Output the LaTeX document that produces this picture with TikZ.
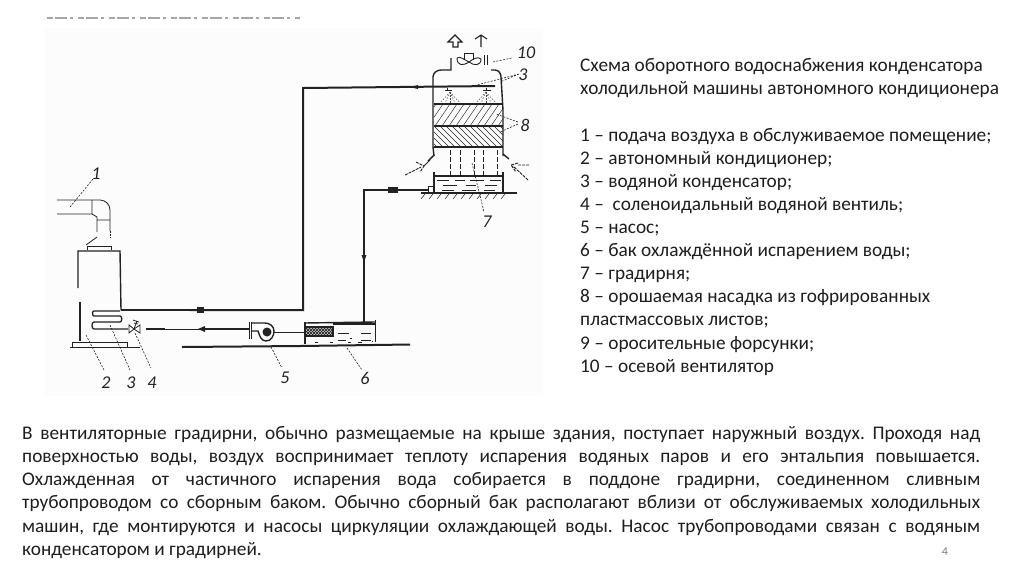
\documentclass[tikz,border=0pt]{standalone}
\usepackage{fontspec}
\setmainfont{Carlito}
\usetikzlibrary{arrows.meta}
\definecolor{ink}{HTML}{222222}
\definecolor{txt}{HTML}{1E1E1E}
\definecolor{paper}{HTML}{FCFCFC}
\newcommand{\jl}[1]{\makebox[958pt][s]{#1}}
\frenchspacing
\tikzset{
  thin line/.style={draw=ink,line width=0.8pt},
  pipe/.style={draw=ink,line width=1.3pt},
  heavy/.style={draw=ink,line width=2pt},
  leader/.style={draw=ink,line width=0.6pt,dashed,dash pattern=on 2pt off 1.4pt},
  wall/.style={draw=ink,line width=1.4pt},
  num/.style={font=\fontsize{18}{18}\selectfont\itshape,text=ink,inner sep=0pt},
  body/.style={font=\fontsize{19.3}{23.1}\selectfont,text=txt,inner sep=0pt,align=left,anchor=north west},
}
\begin{document}
\begin{tikzpicture}[x=1pt,y=-1pt]
\useasboundingbox (0,0) rectangle (1024,574);
\fill[white] (0,0) rectangle (1024,574);
\fill[paper] (45,28) rectangle (543,396);
\draw[gray!70,line width=2pt,dash pattern=on 6pt off 2pt on 12pt off 3pt on 3pt off 5pt] (47,18) -- (300,18);

% --- cooling tower ---
\begin{scope}
\clip (434,104) rectangle (503,126);
\foreach \i in {0,7,...,112} \draw[ink,line width=0.45pt] (400+\i,126) -- (415+\i,104);
\end{scope}
\begin{scope}
\clip (434,126) rectangle (503,147);
\foreach \i in {0,6,...,108} \draw[ink,line width=0.55pt] (410+\i,126) -- (431+\i,147);
\end{scope}
\draw[wall] (451,58) -- (451,70) -- (441,70) to[out=180,in=90] (433,77) -- (433,147) -- (434,156);
\draw[wall] (491,70) -- (495,70) to[out=0,in=90] (501,77) -- (503,110) -- (503,156);
\draw[heavy] (434,104) -- (503,104) (434,126) -- (503,126) (434,147) -- (503,147);
\draw[wall] (434,155) -- (428,161) (503,154) -- (509,159);
\draw[wall] (434,172) -- (434,193) (503,172) -- (503,193);
\draw[pipe] (434,176) -- (503,176);
\foreach \x/\y/\w in {437/180/12,455/180/10,470/180/14,490/180/11,443/185/14,466/185/10,485/185/12,442/190/12,462/190/14,484/190/11}
  \draw[ink,line width=0.8pt] (\x,\y) -- ++(\w,0);
\draw[pipe] (421,193) -- (517,193);
\foreach \x in {425,433,...,510} \draw[ink,line width=0.5pt] (\x,194) -- (\x-4,199);
\foreach \x in {450,460,474,483,497} \draw[ink,line width=0.8pt,dashed,dash pattern=on 5pt off 2pt] (\x,150) -- (\x,175);
\draw[ink,line width=1pt] (447,88) -- (447,90) (445,90) -- (452,90) (486,88) -- (486,90) (483,90) -- (491,90);
\foreach \x in {450,486} \foreach \d in {-10,-5,0,5,10} \draw[ink!80,line width=0.5pt,dash pattern=on 1.5pt off 1.5pt] (\x,92) -- (\x+\d,103);
% fan
\draw[ink,line width=0.9pt] (457,58) .. controls (457,66) and (463,66) .. (469,62) .. controls (463,59) and (460,56) .. (457,58);
\draw[ink,line width=0.9pt] (469,62) .. controls (474,66) and (481,66) .. (481,59) .. controls (478,56) and (473,59) .. (469,62);
\draw[ink,line width=0.9pt] (464,60) -- (464,53) -- (473,53) -- (473,60);
\draw[ink,line width=1pt] (484,55) -- (484,65) (487,55) -- (487,65);
% exhaust arrows
\draw[ink,line width=1.1pt] (448,42) -- (455,35) -- (462,42) -- (458,42) -- (458,47) -- (453,47) -- (453,42) -- cycle;
\draw[ink,line width=1.1pt] (475,39) -- (481,35) -- (487,39) (481,35) -- (481,47);
% side inlet arrows
\draw[ink,line width=0.9pt,dash pattern=on 3pt off 1pt] (405,175) -- (421,167) (416,162) -- (424,166) -- (420,172);
\draw[ink,line width=0.9pt] (424,166) -- (430,160);
\draw[ink,line width=0.9pt,dash pattern=on 3pt off 1pt] (528,180) -- (513,166) (518,163) -- (511,165) -- (516,172) (518,165) -- (530,165);
% leaders
\draw[leader] (493,62) -- (512,58);
\coordinate (lead3a) at (473,86); \coordinate (lead3b) at (500,82);
\draw[leader] (519,74) -- (lead3a) (519,74) -- (lead3b);
\draw[leader] (518,122) -- (496,114) (518,124) -- (500,132);
\draw[leader] (472,163) -- (484,212);

% --- unit ---
\draw[thin line] (57,200) -- (100,200) to[out=0,in=90] (110,210) -- (110,231);
\draw[thin line] (57,214) -- (92,214) (92,200) -- (92,214) -- (97,217) -- (97,232) (97,220) -- (110,220);
\draw[ink,line width=0.8pt,dash pattern=on 2pt off 1pt] (110,231) -- (110,238);
\draw[thin line] (86,245) -- (97,237);
\draw[thin line] (87,250) -- (87,246) -- (111,246) -- (111,250);
\draw[wall] (78,288) -- (78,251) -- (120,251) -- (121,310);
\draw[wall] (80,302) -- (80,341);
\draw[thin line] (72,347) -- (72,342) -- (127,342) -- (127,347) (70,347) -- (140,347);
\draw[pipe] (120,311) -- (94,311) to[out=180,in=180] (94,316) -- (120,316) to[out=0,in=0] (120,322) -- (94,322) to[out=180,in=180] (94,329) -- (128,329);
\coordinate (upStart) at (121,310);
\coordinate (upCorner) at (303,310);
\coordinate (upTop) at (303,88);
\coordinate (upEnd) at (495,86);
\draw[pipe] (upStart) -- (190,310);
\draw[heavy] (190,310) -- (upCorner) -- (upTop) -- (upEnd);
\fill[ink] (197,307) -- (204,307) -- (204,313) -- (197,313) -- cycle;
\fill[ink] (418,85) -- (410,87) -- (418,89) -- cycle;
% valve
\draw[thin line] (129,325) -- (129,333) -- (134,329) -- cycle;
\draw[thin line] (134,329) -- (140,325) -- (140,333) -- cycle;
\draw[thin line] (134,329) -- (137,321) (133,320) -- (139,322) (134,323) -- (138,324);
% lower pipe to pump
\coordinate (pumpIn) at (249,329);
\draw[pipe] (146,329) -- (165,329);
\draw[thin line] (165,329) -- (205,329);
\draw[pipe] (205,329) -- (pumpIn);
\fill[ink] (205,326) -- (198,329) -- (205,332) -- cycle;
% pump
\draw[thin line] (249,322) -- (249,339) (251,322) -- (251,339);
\draw[wall] (251,323) -- (265,323) to[out=0,in=90] (274,331) to[out=-90,in=0] (266,341) to[out=180,in=-70] (258,331) -- (251,331);
\fill[ink] (267,332) circle (4.5pt);
\coordinate (pumpOut) at (274,332);
\coordinate (tankIn) at (305,332);
\draw[thin line] (pumpOut) -- (tankIn);
\draw[heavy] (182,347) -- (300,346) -- (410,344.5);
% tank
\draw[wall] (305,322) -- (305,344);
\draw[wall] (304,323) -- (375,322);
\draw[thin line] (375,320) -- (375,342);
\draw[pipe] (333,324) -- (375,324);
\fill[gray!35] (306,327) rectangle (333,336);
\begin{scope}
\clip (306,327) rectangle (333,336);
\foreach \i in {0,3,...,48} {\draw[ink,line width=0.7pt] (290+\i,336) -- (299+\i,327); \draw[ink,line width=0.7pt] (290+\i,327) -- (299+\i,336);}
\end{scope}
\draw[wall] (306,327) -- (333,327) -- (333,336) -- (306,336);
\foreach \x/\y/\w in {338/333/11,361/333/10,338/340/8,361/340/10,315/342/3,330/342/3,348/342/3,350/338/2,358/342/4,372/341/1}
  \draw[ink,line width=1pt] (\x,\y) -- ++(\w,0);
% return pipe
\coordinate (retB) at (364,190);
\coordinate (retC) at (364,325);
\draw[thin line] (428,186) rectangle (434,192);
\draw[pipe] (428,190) -- (retB) -- (retC);
\fill[ink] (388,187) -- (398,187) -- (398,193) -- (388,193) -- cycle;
\fill[ink] (364,262) -- (361.5,255) -- (366.5,255) -- cycle;
% leaders lower
\draw[leader] (70,207) -- (93,179);
\draw[leader] (86,335) -- (104,370);
\draw[leader] (110,325) -- (130,370);
\draw[leader] (135,333) -- (151,368);
\draw[leader] (271,347) -- (282,368);
\draw[leader] (347,348) -- (362,370);
% labels
\node[num] (n1) at (96,174) {1};
\node[num] (n2) at (106,383) {2};
\node[num] (n3) at (131,383) {3};
\node[num] (n4) at (152,383) {4};
\node[num] (n5) at (285,378) {5};
\node[num] (n6) at (365,378) {6};
\node[num] (n7) at (487,222) {7};
\node[num] (n8) at (525,125) {8};
\node[num] (n3b) at (523,75) {3};
\node[num] (n10) at (526,53) {10};
% text
\node[body] (right) at (580,58.5) {Схема оборотного водоснабжения конденсатора\\холодильной машины автономного кондиционера\\[23.1pt]
1 – подача воздуха в обслуживаемое помещение;\\
2 – автономный кондиционер;\\
3 – водяной конденсатор;\\
4 –\ \ соленоидальный водяной вентиль;\\
5 – насос;\\
6 – бак охлаждённой испарением воды;\\
7 – градирня;\\
8 – орошаемая насадка из гофрированных\\
пластмассовых листов;\\
9 – оросительные форсунки;\\
10 – осевой вентилятор};
\node[body,font=\fontsize{19.3}{23.2}\selectfont] (para) at (22,426) {\jl{В вентиляторные градирни, обычно размещаемые на крыше здания, поступает наружный воздух. Проходя над}\\
\jl{поверхностью воды, воздух воспринимает теплоту испарения водяных паров и его энтальпия повышается.}\\
\jl{Охлажденная от частичного испарения вода собирается в поддоне градирни, соединенном сливным}\\
\jl{трубопроводом со сборным баком. Обычно сборный бак располагают вблизи от обслуживаемых холодильных}\\
\jl{машин, где монтируются и насосы циркуляции охлаждающей воды. Насос трубопроводами связан с водяным}\\
конденсатором и градирней.};
\node[font=\fontsize{12}{12}\selectfont,text=gray,inner sep=0pt] (page) at (945,552) {4};
\end{tikzpicture}
\end{document}
